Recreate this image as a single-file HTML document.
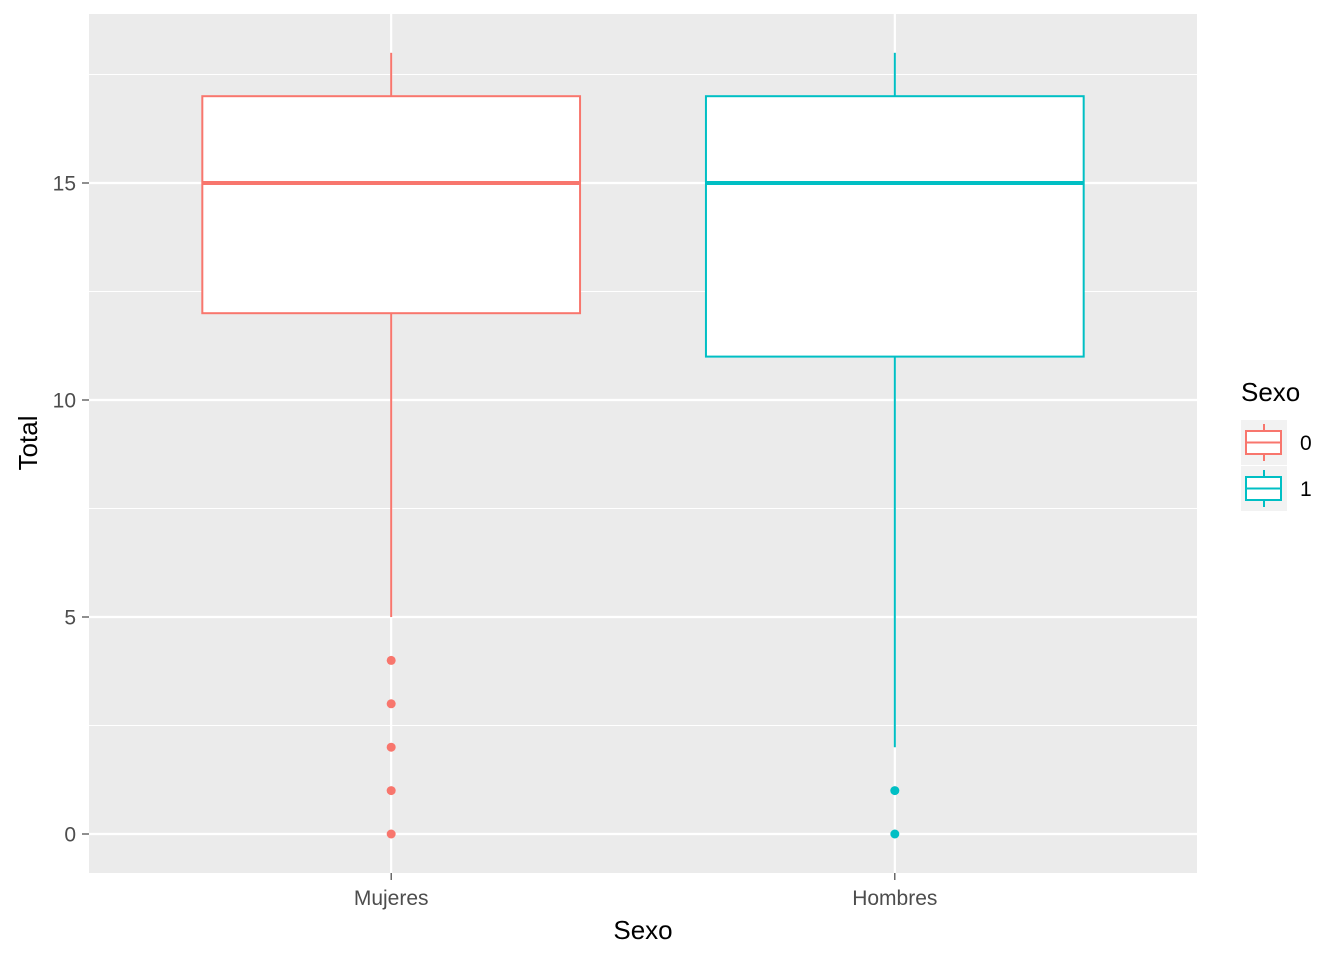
<!DOCTYPE html>
<html><head><meta charset="utf-8"><style>
body{margin:0;background:#fff;}
svg{display:block;font-family:"Liberation Sans",Arial,sans-serif;}
</style></head><body>
<svg id="chart" width="1344" height="960">
<rect x="89" y="14" width="1108" height="859" fill="#EBEBEB"/>
<g id="grid"></g>
<g id="marks"></g>
<g id="axes"></g>
<text x="643" y="939" font-size="26" text-anchor="middle" fill="#000">Sexo</text>
<text transform="translate(37,443) rotate(-90)" font-size="26" text-anchor="middle" fill="#000">Total</text>
<g>
<text x="1241" y="401" font-size="26" fill="#000">Sexo</text>
<g id="legend"></g>
</g>
</svg>
<script>
const categories=["Mujeres","Hombres"];
const colors=["#F8766D","#00BFC4"];
const q1=[12,11];
const median=[15,15];
const q3=[17,17];
const whiskerLow=[5,2];
const whiskerHigh=[18,18];
const outliersMujeres=[4,3,2,1,0];
const outliersHombres=[1,0];
const yTicks=[0,5,10,15];
const legendLabels=["0","1"];

const NS="http://www.w3.org/2000/svg";
const px0=89,px1=1197,py0=873,py1=14;
function y(v){return 834-(v)*43.4;}
function x(i){return px0+(i+1-0.4)*(px1-px0)/2.2;}
const bw=0.75*(px1-px0)/2.2;
function mk(parent,tag,attrs){const e=document.createElementNS(NS,tag);for(const k in attrs)e.setAttribute(k,attrs[k]);document.getElementById(parent).appendChild(e);return e;}

for(let i=0;i<yTicks.length;i++){
  const v=yTicks[i];
  const g=mk("grid","line",{x1:px0,x2:px1,y1:y(v),y2:y(v),stroke:"#fff","stroke-width":2.2});
  
  
  if(i<yTicks.length-1){
    const m=(yTicks[i]+yTicks[i+1])/2;
    const g2=mk("grid","line",{x1:px0,x2:px1,y1:y(m),y2:y(m),stroke:"#fff","stroke-width":1.1});
    
    
  }
  const t=mk("axes","text",{x:76,y:y(v)+7.5,"font-size":21,"text-anchor":"end",fill:"#4D4D4D"});
  t.textContent=v;
  
  
  const tk=mk("axes","line",{x1:82,x2:89,y1:y(v),y2:y(v),stroke:"#333","stroke-width":1.1});
  
  
}
{const m=yTicks[yTicks.length-1]+2.5;
const g2=mk("grid","line",{x1:px0,x2:px1,y1:y(m),y2:y(m),stroke:"#fff","stroke-width":1.1});

}

const outs=[outliersMujeres,outliersHombres];
categories.forEach((c,i)=>{
  const cx=x(i);
  const gl=mk("grid","line",{x1:cx,x2:cx,y1:py1,y2:py0,stroke:"#fff","stroke-width":2.2});
  
  
  const w1=mk("marks","line",{x1:cx,x2:cx,y1:y(whiskerHigh[i]),y2:y(q3[i]),stroke:colors[i],"stroke-width":2});
  
  
  const w2=mk("marks","line",{x1:cx,x2:cx,y1:y(q1[i]),y2:y(whiskerLow[i]),stroke:colors[i],"stroke-width":2});
  
  
  const b=mk("marks","rect",{x:cx-bw/2,y:y(q3[i]),width:bw,height:y(q1[i])-y(q3[i]),fill:"#fff",stroke:colors[i],"stroke-width":2});
  
  
  const md=mk("marks","line",{x1:cx-bw/2,x2:cx+bw/2,y1:y(median[i]),y2:y(median[i]),stroke:colors[i],"stroke-width":4});
  
  
  outs[i].forEach(v=>{
    const p=mk("marks","circle",{cx:cx,cy:y(v),r:4.5,fill:colors[i]});
    
    
  });
  const t=mk("axes","text",{x:cx,y:905,"font-size":21,"text-anchor":"middle",fill:"#4D4D4D"});
  t.textContent=c;
  
  
  const tk=mk("axes","line",{x1:cx,x2:cx,y1:873,y2:880,stroke:"#333","stroke-width":1.1});
  
  
});

legendLabels.forEach((l,i)=>{
  const ky=420+i*46;
  const bg=mk("legend","rect",{x:1241,y:ky,width:46,height:45,fill:"#F2F2F2"});
  
  
  const wl=mk("legend","line",{x1:1264,x2:1264,y1:ky+4,y2:ky+41,stroke:colors[i],"stroke-width":2});
  
  
  const r=mk("legend","rect",{x:1246,y:ky+11,width:35,height:23,fill:"#fff",stroke:colors[i],"stroke-width":2});
  
  
  const ml=mk("legend","line",{x1:1246,x2:1281,y1:ky+22.5,y2:ky+22.5,stroke:colors[i],"stroke-width":2});
  
  
  const t=mk("legend","text",{x:1300,y:ky+30,"font-size":21,fill:"#000"});
  t.textContent=l;
  
  
});
</script>
</body></html>
